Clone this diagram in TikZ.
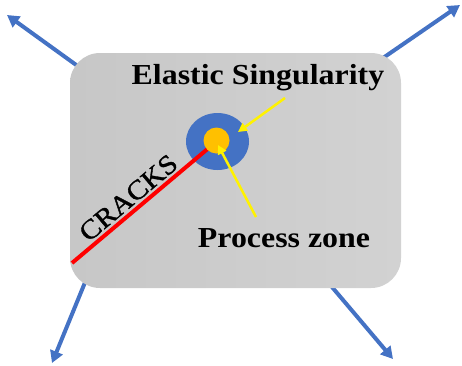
\documentclass[tikz,border=0pt]{standalone}
\usepackage{fontspec}
\usepackage{graphicx}
\setmainfont{Liberation Serif}
\newfontfamily\crackfont[FakeBold=1.2]{Liberation Serif}
\usetikzlibrary{arrows.meta,shapes.geometric}
\definecolor{pushblue}{HTML}{4472C4}
\definecolor{zoneorange}{HTML}{FFC000}
\definecolor{platelt}{HTML}{D2D2D2}
\definecolor{platedk}{HTML}{C7C7C7}
\tikzset{
  pull/.style={draw=pushblue,line width=4pt,-{Triangle[length=12pt,width=13pt]}},
  pointer/.style={draw=yellow,line width=2.5pt,-{Triangle[length=9pt,width=9pt]}},
  label/.style={inner sep=0pt,font=\fontsize{29}{34}\selectfont\bfseries},
}
\begin{document}
\begin{tikzpicture}[x=1pt,y=-1pt]
\useasboundingbox (0,0) rectangle (462,365);
% loading arrows (behind the plate)
\coordinate (tlS) at (79,67);  \coordinate (tlE) at (7,15);
\coordinate (trS) at (383,58); \coordinate (trE) at (460,5);
\coordinate (blS) at (86,280); \coordinate (blE) at (52,363);
\coordinate (brS) at (332,287);\coordinate (brE) at (393,359);
\draw[pull] (tlS) -- (tlE);
\draw[pull] (trS) -- (trE);
\draw[pull] (blS) -- (blE);
\draw[pull] (brS) -- (brE);
% plate
\node[rectangle,rounded corners=30pt,minimum width=331pt,minimum height=235pt,
      inner sep=0pt,left color=platedk,right color=platelt] (plate) at (235.5,170.5) {};
% zones
\node[ellipse,fill=pushblue,minimum width=63pt,minimum height=57pt,inner sep=0pt] (esz) at (217.5,141.5) {};
\coordinate (crackS) at (72,263);
\draw[red,line width=4pt] (crackS) -- (217,141);
\node[circle,fill=zoneorange,minimum size=26pt,inner sep=0pt] (pz) at (216.5,140.5) {};
% labels
\node[label,anchor=base] (elast) at (258,84) {\scalebox{1.1}[1]{Elastic Singularity}};
\node[label,anchor=base] (proc) at (284,247) {\scalebox{1.1}[1]{Process zone}};
\node[inner sep=0pt,anchor=base,rotate=40,font=\crackfont\fontsize{27}{32}\selectfont] (cracks) at (134,204.6) {\scalebox{1.1}[1]{CRACKS}};
% pointers
\coordinate (p1S) at (285,98);  \coordinate (p1E) at (238,132);
\coordinate (p2S) at (256,217); \coordinate (p2E) at (218,145);
\draw[pointer] (p1S) -- (p1E);
\draw[pointer] (p2S) -- (p2E);
\end{tikzpicture}
\end{document}
